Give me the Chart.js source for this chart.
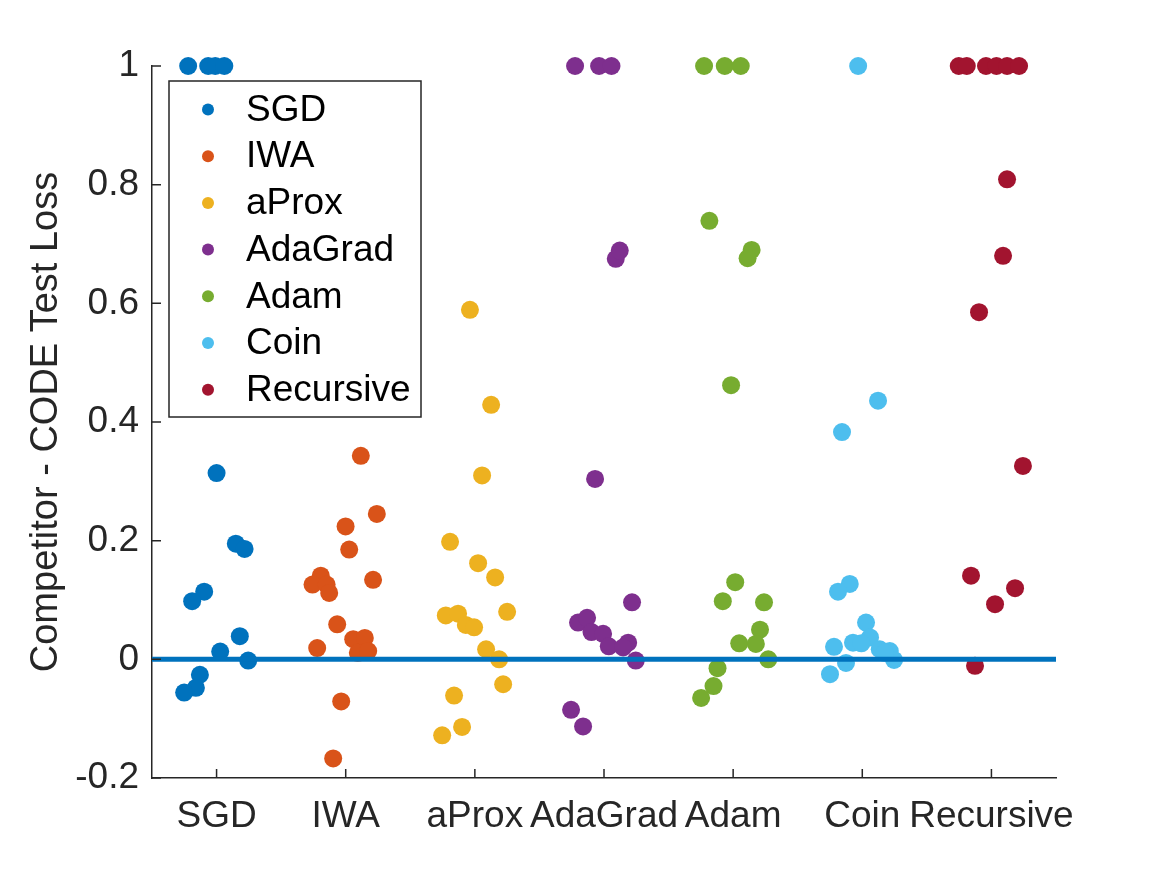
<!DOCTYPE html>
<html>
<head>
<meta charset="utf-8">
<script src="https://cdn.jsdelivr.net/npm/chart.js@4.4.1/dist/chart.umd.min.js"></script>
<style>
  html, body { margin: 0; padding: 0; background: #ffffff; }
  #wrap { width: 1167px; height: 875px; }
</style>
</head>
<body>
<div id="wrap"><canvas id="c" width="1167" height="875"></canvas></div>
<script>
// ---------- data ----------
const categories = ['SGD', 'IWA', 'aProx', 'AdaGrad', 'Adam', 'Coin', 'Recursive'];
const seriesColors = ['#0072BD', '#D95319', '#EDB120', '#7E2F8E', '#77AC30', '#4DBEEE', '#A2142F'];

const yTickValues = [-0.2, 0, 0.2, 0.4, 0.6, 0.8, 1];
const yTickLabels = ['-0.2', '0', '0.2', '0.4', '0.6', '0.8', '1'];
const xTickValues = [1, 2, 3, 4, 5, 6, 7];

// jittered x positions (category index + jitter) and values
const sgdX = [0.780, 0.935, 0.990, 1.060, 1.000, 1.149, 1.217, 0.904, 0.811, 1.180, 1.028, 1.245, 0.871, 0.840, 0.749];
const sgdY = [1, 1, 1, 1, 0.314, 0.195, 0.186, 0.114, 0.098, 0.039, 0.013, -0.002, -0.026, -0.048, -0.056];

const iwaX = [2.117, 2.241, 1.999, 2.027, 2.212, 1.807, 1.743, 1.852, 1.872, 1.934, 2.058, 2.148, 2.094, 2.174, 1.779, 1.965, 1.903];
const iwaY = [0.343, 0.245, 0.224, 0.185, 0.134, 0.141, 0.126, 0.126, 0.112, 0.059, 0.034, 0.036, 0.011, 0.014, 0.019, -0.071, -0.167];

const aproxX = [2.962, 3.126, 3.056, 2.808, 3.025, 3.157, 3.250, 2.775, 2.870, 2.930, 2.994, 3.087, 3.188, 3.219, 2.839, 2.901, 2.747];
const aproxY = [0.589, 0.429, 0.310, 0.198, 0.162, 0.138, 0.080, 0.074, 0.077, 0.058, 0.054, 0.017, 0.000, -0.042, -0.061, -0.114, -0.128];

const adagradX = [3.776, 3.962, 4.058, 4.091, 4.122, 3.931, 4.217, 3.799, 3.869, 3.903, 3.993, 4.037, 4.187, 4.148, 4.246, 3.745, 3.838];
const adagradY = [1, 1, 1, 0.675, 0.689, 0.304, 0.096, 0.062, 0.070, 0.046, 0.043, 0.022, 0.028, 0.020, -0.002, -0.085, -0.113];

const adamX = [4.775, 4.935, 5.059, 4.816, 5.143, 5.112, 4.984, 5.016, 4.920, 5.239, 5.208, 5.047, 5.176, 5.272, 4.879, 4.848, 4.752];
const adamY = [1, 1, 1, 0.739, 0.690, 0.676, 0.462, 0.130, 0.098, 0.096, 0.050, 0.027, 0.026, 0.000, -0.015, -0.045, -0.065];

const coinX = [5.968, 6.122, 5.843, 5.903, 5.812, 6.029, 6.060, 5.928, 5.993, 6.135, 6.213, 6.246, 5.781, 5.874, 5.750, 6.174];
const coinY = [1, 0.436, 0.383, 0.127, 0.114, 0.062, 0.037, 0.028, 0.027, 0.017, 0.014, -0.001, 0.021, -0.006, -0.025, 0.011];

const recursiveX = [6.747, 6.809, 6.958, 7.039, 7.121, 7.214, 7.121, 7.090, 6.904, 7.244, 6.842, 7.183, 7.028, 6.873];
const recursiveY = [1, 1, 1, 1, 1, 1, 0.809, 0.680, 0.585, 0.326, 0.141, 0.120, 0.093, -0.011];

const zeroLineX = [0.5, 7.5];
const zeroLineY = [0, 0];

// ---------- build ----------
const seriesXs = [sgdX, iwaX, aproxX, adagradX, adamX, coinX, recursiveX];
const seriesYs = [sgdY, iwaY, aproxY, adagradY, adamY, coinY, recursiveY];
const FONT = '"Liberation Sans", Arial, Helvetica, sans-serif';
const AXIS_COLOR = '#262626';

const toPts = (xs, ys) => xs.map((x, i) => ({ x: x, y: ys[i] }));

const datasets = categories.map((name, i) => ({
  type: 'scatter',
  label: name,
  data: toPts(seriesXs[i], seriesYs[i]),
  backgroundColor: seriesColors[i],
  borderColor: seriesColors[i],
  pointRadius: 9,
  pointHoverRadius: 9,
  pointBorderWidth: 0,
  order: 10 - i,
  showInLegend: true
}));
datasets.push({
  type: 'line',
  label: 'zero',
  data: toPts(zeroLineX, zeroLineY),
  borderColor: '#0072BD',
  borderWidth: 5,
  pointRadius: 0,
  fill: false,
  order: -1,
  showInLegend: false
});

// inward ticks (MATLAB style)
const inwardTicks = {
  id: 'inwardTicks',
  afterDatasetsDraw(chart) {
    const ctx = chart.ctx, xs = chart.scales.x, ys = chart.scales.y, ca = chart.chartArea;
    ctx.save();
    ctx.strokeStyle = AXIS_COLOR;
    ctx.lineWidth = 1.5;
    ctx.beginPath();
    xTickValues.forEach(v => {
      const p = xs.getPixelForValue(v);
      ctx.moveTo(p, ca.bottom); ctx.lineTo(p, ca.bottom - 9);
    });
    yTickValues.forEach(v => {
      const p = ys.getPixelForValue(v);
      ctx.moveTo(ca.left, p); ctx.lineTo(ca.left + 9, p);
    });
    ctx.stroke();
    ctx.restore();
  }
};

// boxed legend inside the axes (upper left)
const boxLegend = {
  id: 'boxLegend',
  afterDraw(chart) {
    const ctx = chart.ctx;
    const items = chart.data.datasets.filter(d => d.showInLegend);
    const bx = 169, by = 81, bw = 252, bh = 336;
    ctx.save();
    ctx.fillStyle = '#ffffff';
    ctx.fillRect(bx, by, bw, bh);
    ctx.strokeStyle = AXIS_COLOR;
    ctx.lineWidth = 1.5;
    ctx.strokeRect(bx, by, bw, bh);
    ctx.font = '37px ' + FONT;
    ctx.textBaseline = 'middle';
    ctx.textAlign = 'left';
    items.forEach((d, i) => {
      const cy = 109.5 + i * 46.7;
      ctx.beginPath();
      ctx.fillStyle = d.backgroundColor;
      ctx.arc(208, cy, 6, 0, Math.PI * 2);
      ctx.fill();
      ctx.fillStyle = '#000000';
      ctx.fillText(d.label, 246, cy + 1);
    });
    ctx.restore();
  }
};

new Chart(document.getElementById('c'), {
  data: { datasets: datasets },
  options: {
    responsive: false,
    animation: false,
    devicePixelRatio: 1,
    layout: { padding: { left: 0, top: 66, right: 111, bottom: 0 } },
    plugins: {
      legend: { display: false },
      tooltip: { enabled: false }
    },
    elements: { point: { hitRadius: 0 } },
    clip: false,
    scales: {
      x: {
        type: 'linear',
        min: 0.5,
        max: 7.5,
        afterBuildTicks: s => { s.ticks = xTickValues.map(v => ({ value: v })); },
        afterFit: s => { s.height = 875 - 778; },
        grid: { display: false },
        border: { display: true, color: AXIS_COLOR, width: 1.5 },
        ticks: {
          autoSkip: false,
          maxRotation: 0,
          padding: 9,
          color: AXIS_COLOR,
          font: { family: FONT, size: 37 },
          callback: (v) => { const i = xTickValues.indexOf(v); return i >= 0 ? categories[i] : ''; }
        }
      },
      y: {
        type: 'linear',
        min: -0.2,
        max: 1,
        afterBuildTicks: s => { s.ticks = yTickValues.map(v => ({ value: v })); },
        afterFit: s => { s.width = 152; },
        grid: { display: false },
        border: { display: true, color: AXIS_COLOR, width: 1.5 },
        title: {
          display: true,
          text: 'Competitor - CODE Test Loss',
          color: AXIS_COLOR,
          font: { family: FONT, size: 38 },
          padding: { top: 24, bottom: 0 }
        },
        ticks: {
          autoSkip: false,
          padding: 5,
          color: AXIS_COLOR,
          font: { family: FONT, size: 37 },
          callback: (v, idx) => yTickLabels[idx]
        }
      }
    }
  },
  plugins: [inwardTicks, boxLegend]
});
</script>
</body>
</html>
